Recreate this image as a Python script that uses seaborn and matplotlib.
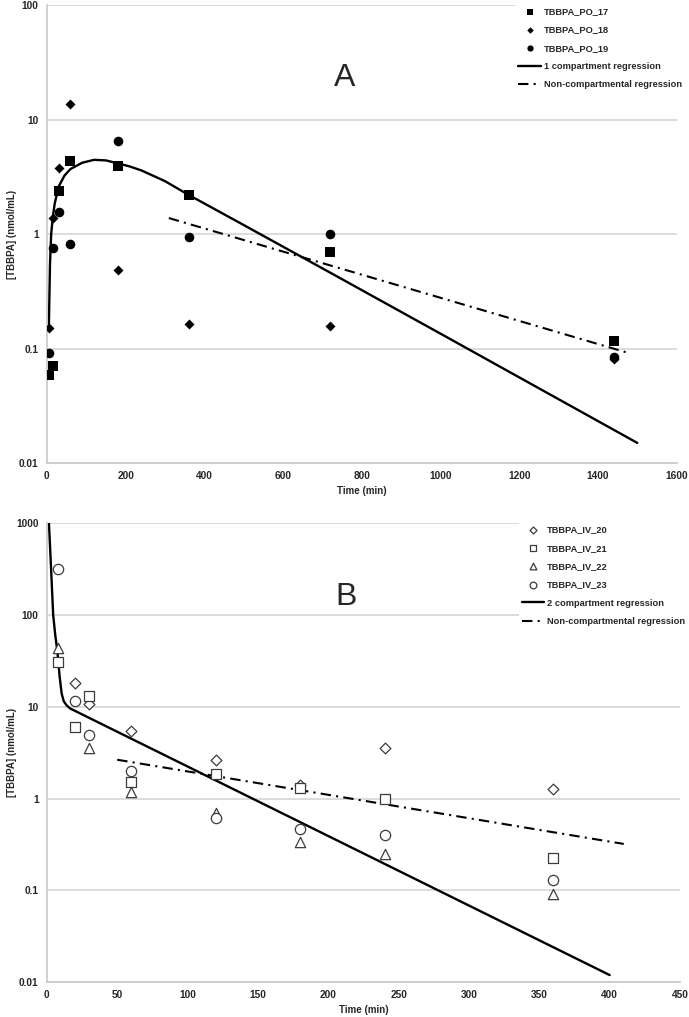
import numpy as np
import pandas as pd
import matplotlib
matplotlib.use("Agg")
import matplotlib.pyplot as plt
import seaborn as sns
from matplotlib.ticker import FixedLocator, FuncFormatter, NullLocator

# ---- panel A: oral dosing ----
po_time = [5, 15, 30, 60, 180, 360, 720, 1440]
po_17 = [0.059, 0.071, 2.38, 4.35, 3.93, 2.19, 0.70, 0.116]
po_18 = [0.15, 1.38, 3.78, 13.6, 0.485, 0.165, 0.158, 0.081]
po_19 = [0.091, 0.75, 1.55, 0.82, 6.5, 0.95, 1.0, 0.085]

po_fit_time = [5, 8, 11, 15, 20, 30, 45, 60, 90, 120, 150, 180, 210, 240, 300, 360, 500, 720, 1000, 1250, 1500]
po_fit_conc = [0.15, 0.55, 1.0, 1.4, 1.85, 2.6, 3.25, 3.7, 4.2, 4.45, 4.4, 4.15, 3.9, 3.6, 2.9, 2.2, 1.2, 0.46, 0.135, 0.045, 0.015]

po_nc_time = [310, 1480]
po_nc_conc = [1.38, 0.091]

# ---- panel B: intravenous dosing ----
iv_time = [8, 20, 30, 60, 120, 180, 240, 360]
iv_20 = [np.nan, 18.4, 10.7, 5.4, 2.6, 1.4, 3.56, 1.27]
iv_21 = [30.8, 5.96, 13.0, 1.52, 1.83, 1.29, 0.98, 0.226]
iv_22 = [43.8, np.nan, 3.6, 1.18, 0.69, 0.337, 0.25, 0.092]
iv_23 = [321, 11.5, 4.9, 2.0, 0.62, 0.47, 0.40, 0.13]

iv_fit_time = [1.5, 3, 4.5, 6, 7.5, 9, 10.5, 12, 14, 16.5, 400]
iv_fit_conc = [1000, 320, 100, 60, 40, 22, 14, 11.5, 10.4, 9.6, 0.0119]

iv_nc_time = [50, 410]
iv_nc_conc = [2.65, 0.32]

sns.set_style("white")
plt.rcParams['font.family'] = ['Liberation Sans', 'DejaVu Sans']
plt.rcParams['font.weight'] = 'bold'

fig = plt.figure(figsize=(6.89, 10.17), dpi=100)
ax1 = fig.add_axes([0.068, 0.5447, 0.914, 0.4503])
ax2 = fig.add_axes([0.068, 0.0344, 0.919, 0.451])

dashdot = (0, (5, 2.5, 1, 2.5))


def style_axis(ax, xmax, xstep, ymin, ymax, letter, order):
    ax.set_yscale('log')
    ax.set_xlim(0, xmax)
    ax.set_ylim(ymin, ymax)
    ax.xaxis.set_major_locator(FixedLocator(np.arange(0, xmax + 1, xstep)))
    ax.yaxis.set_major_locator(FixedLocator([10.0 ** k for k in range(int(np.log10(ymin)), int(np.log10(ymax)) + 1)]))
    ax.yaxis.set_minor_locator(NullLocator())
    ax.yaxis.set_major_formatter(FuncFormatter(lambda v, p: f'{v:g}'))
    ax.yaxis.grid(True, color='#d6d6d6', lw=1.2)
    ax.xaxis.grid(False)
    for s in ['top', 'right']:
        ax.spines[s].set_visible(False)
    for s in ['left', 'bottom']:
        ax.spines[s].set_color('#c8c8c8')
        ax.spines[s].set_linewidth(1.2)
    ax.tick_params(length=0, labelsize=7.3, pad=6)
    ax.set_xlabel('Time (min)', fontsize=7, fontweight='bold')
    ax.set_ylabel('[TBBPA] (nmol/mL)', fontsize=7, fontweight='bold')
    ax.xaxis.set_label_coords(0.5, -0.05)
    ax.yaxis.set_label_coords(-0.047, 0.5)
    ax.text(0.473, 0.84, letter, transform=ax.transAxes, fontsize=23,
            fontweight='normal', ha='center', va='center')
    handles, labels = ax.get_legend_handles_labels()
    lookup = dict(zip(labels, handles))
    leg = ax.legend([lookup[l] for l in order], order, loc='upper right',
                    bbox_to_anchor=(1.02, 1.012), frameon=True, facecolor='white',
                    edgecolor='none', framealpha=1, fontsize=6.7, labelspacing=1.0,
                    handlelength=2.4, handletextpad=0.3, borderpad=0.3, markerscale=0.65)
    leg.set_zorder(10)


# panel A
sns.scatterplot(x=po_time, y=po_17, marker='s', s=55, color='black', linewidth=0, ax=ax1, label='TBBPA_PO_17', zorder=3)
sns.scatterplot(x=po_time, y=po_18, marker='D', s=26, color='black', linewidth=0, ax=ax1, label='TBBPA_PO_18', zorder=3)
sns.scatterplot(x=po_time, y=po_19, marker='o', s=48, color='black', linewidth=0, ax=ax1, label='TBBPA_PO_19', zorder=3)
sns.lineplot(x=po_fit_time, y=po_fit_conc, color='black', lw=1.7, sort=False, estimator=None, ax=ax1, label='1 compartment regression')
sns.lineplot(x=po_nc_time, y=po_nc_conc, color='black', lw=1.5, sort=False, estimator=None, ax=ax1, label='Non-compartmental regression')
ax1.lines[-1].set_linestyle(dashdot)
style_axis(ax1, 1600, 200, 0.01, 100, 'A',
           ['TBBPA_PO_17', 'TBBPA_PO_18', 'TBBPA_PO_19', '1 compartment regression', 'Non-compartmental regression'])

# panel B
open_kw = dict(color='white', edgecolor='#3c3c3c', linewidth=0.9, zorder=3)
sns.scatterplot(x=iv_time, y=iv_20, marker='D', s=30, ax=ax2, label='TBBPA_IV_20', **open_kw)
sns.scatterplot(x=iv_time, y=iv_21, marker='s', s=52, ax=ax2, label='TBBPA_IV_21', **open_kw)
sns.scatterplot(x=iv_time, y=iv_22, marker='^', s=55, ax=ax2, label='TBBPA_IV_22', **open_kw)
sns.scatterplot(x=iv_time, y=iv_23, marker='o', s=55, ax=ax2, label='TBBPA_IV_23', **open_kw)
sns.lineplot(x=iv_fit_time, y=iv_fit_conc, color='black', lw=1.7, sort=False, estimator=None, ax=ax2, label='2 compartment regression')
sns.lineplot(x=iv_nc_time, y=iv_nc_conc, color='black', lw=1.5, sort=False, estimator=None, ax=ax2, label='Non-compartmental regression')
ax2.lines[-1].set_linestyle(dashdot)
style_axis(ax2, 450, 50, 0.01, 1000, 'B',
           ['TBBPA_IV_20', 'TBBPA_IV_21', 'TBBPA_IV_22', 'TBBPA_IV_23', '2 compartment regression', 'Non-compartmental regression'])

fig.savefig('out.png', dpi=100)
